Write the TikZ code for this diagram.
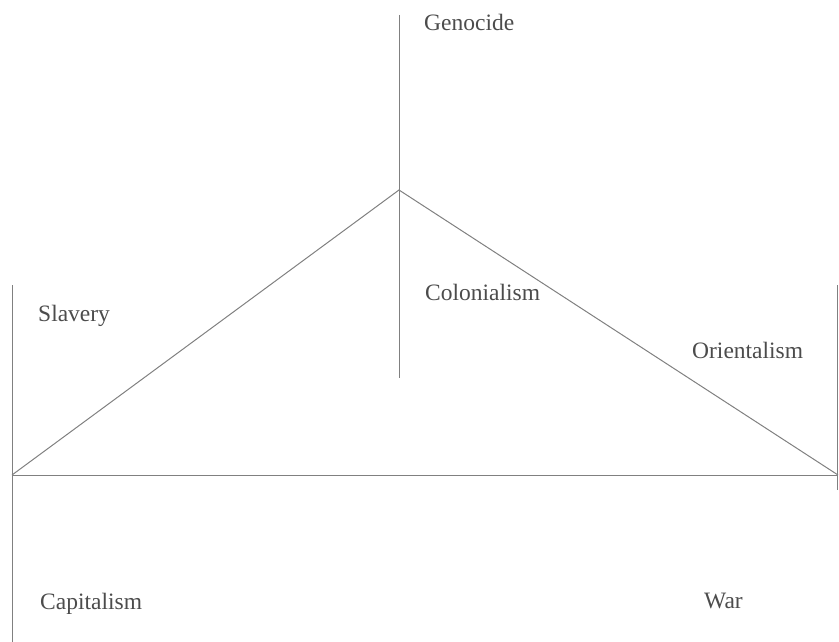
\documentclass[tikz,border=0pt]{standalone}
\usepackage{fontspec}
\setmainfont{Liberation Serif}
\begin{document}
\begin{tikzpicture}[x=1pt,y=-1pt,
  ln/.style={draw=black!50,line width=1pt},
  lbl/.style={anchor=west,inner sep=0pt,text=black!70,font=\fontsize{23.5}{26}\selectfont}]
\useasboundingbox (0,0) rectangle (839,642);
\coordinate (gtop) at (399,15);
\coordinate (apex) at (399,190);
\coordinate (gbot) at (399,378);
\coordinate (bl) at (12,475);
\coordinate (br) at (838,475);
\coordinate (ltop) at (12,285);
\coordinate (lbot) at (12,642);
\coordinate (rtop) at (837,285);
\coordinate (rbot) at (837,490);
\draw[ln] (gtop) -- (gbot);
\draw[ln] (bl) -- (apex) -- (br);
\draw[ln] (bl) -- (br);
\draw[ln] (ltop) -- (lbot);
\draw[ln] (rtop) -- (rbot);
\node[lbl] (genocide) at (424,22) {Genocide};
\node[lbl] (slavery) at (38,316) {Slavery};
\node[lbl] (colonialism) at (425,292) {Colonialism};
\node[lbl] (orientalism) at (692,350) {Orientalism};
\node[lbl] (capitalism) at (40,604) {Capitalism};
\node[lbl] (war) at (704,601) {War};
\end{tikzpicture}
\end{document}
